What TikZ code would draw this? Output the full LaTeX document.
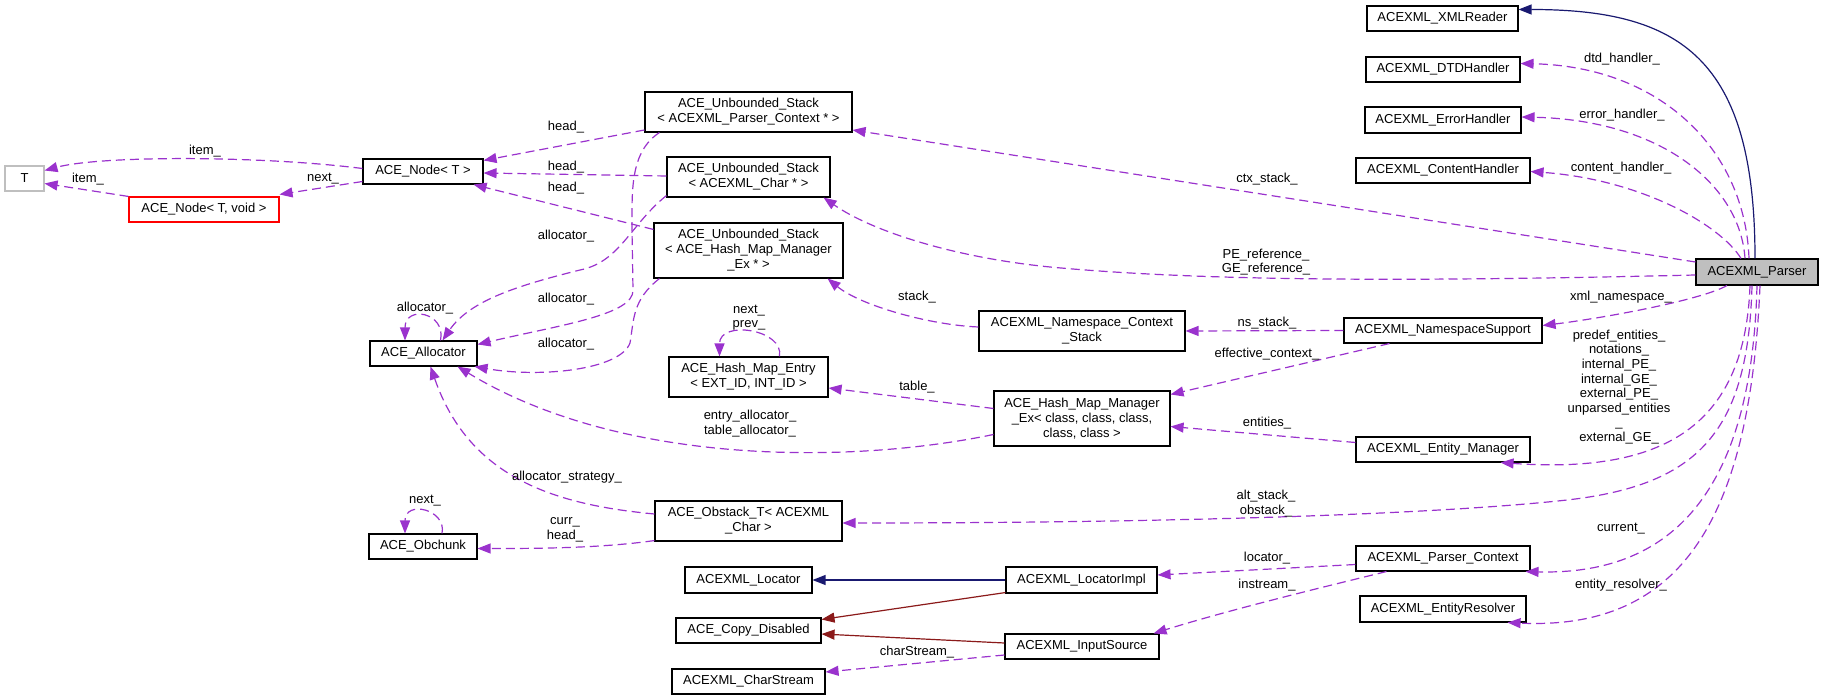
\documentclass[tikz,border=0pt]{standalone}
\usepackage{fontspec}
\setmainfont{Liberation Sans}
\usetikzlibrary{calc}
\usetikzlibrary{arrows.meta}
\definecolor{orchid}{HTML}{9A32CD}
\definecolor{midblue}{HTML}{191970}
\definecolor{brick}{HTML}{8B1A1A}
\definecolor{grayb}{HTML}{BFBFBF}
\begin{document}
\begin{tikzpicture}[x=1pt, y=-1pt, font=\fontsize{13}{15}\selectfont,
  cls/.style={draw=black, line width=1.1pt, inner sep=0pt, align=center},
  used/.style={orchid, line width=1.2pt, dash pattern=on 9pt off 5pt, -{Triangle[length=13pt,width=10pt]}},
  pubinh/.style={midblue, line width=1.2pt, -{Triangle[length=13pt,width=10pt]}},
  privinh/.style={brick, line width=1.2pt, -{Triangle[length=13pt,width=10pt]}},
  lbl/.style={inner sep=0pt, align=center, font=\fontsize{13}{14.6}\selectfont}]
\useasboundingbox (0,0) rectangle (1824,700);

\node[cls, draw=grayb, minimum width=39pt, minimum height=25pt] (T) at (24.5,178.5) {T};
\node[cls, minimum width=120pt, minimum height=25pt] (NodeT) at (423,171.5) {ACE\_Node< T >};
\node[cls, draw=red, minimum width=150pt, minimum height=25pt] (NodeTV) at (204,209.5) {ACE\_Node< T, void >};
\node[cls, minimum width=107pt, minimum height=25pt] (Alloc) at (423.5,353.5) {ACE\_Allocator};
\node[cls, minimum width=108pt, minimum height=25pt] (Obchunk) at (423,546.5) {ACE\_Obchunk};
\node[cls, minimum width=207pt, minimum height=40pt] (StackPC) at (748.5,112) {ACE\_Unbounded\_Stack\\< ACEXML\_Parser\_Context * >};
\node[cls, minimum width=163pt, minimum height=40pt] (StackChar) at (748.5,177) {ACE\_Unbounded\_Stack\\< ACEXML\_Char * >};
\node[cls, minimum width=189pt, minimum height=55pt] (StackHMM) at (748.5,250.5) {ACE\_Unbounded\_Stack\\< ACE\_Hash\_Map\_Manager\\\_Ex * >};
\node[cls, minimum width=159pt, minimum height=40pt] (HMEntry) at (748.5,377) {ACE\_Hash\_Map\_Entry\\< EXT\_ID, INT\_ID >};
\node[cls, minimum width=187pt, minimum height=40pt] (Obstack) at (748.5,521) {ACE\_Obstack\_T< ACEXML\\\_Char >};
\node[cls, minimum width=127pt, minimum height=26pt] (Locator) at (748.5,580) {ACEXML\_Locator};
\node[cls, minimum width=145pt, minimum height=25pt] (CopyDis) at (748.5,630.5) {ACE\_Copy\_Disabled};
\node[cls, minimum width=153pt, minimum height=25pt] (CharStream) at (748.5,681.5) {ACEXML\_CharStream};
\node[cls, minimum width=206pt, minimum height=40pt] (NCStack) at (1082,331) {ACEXML\_Namespace\_Context\\\_Stack};
\node[cls, minimum width=176pt, minimum height=55pt] (HMManager) at (1082,418.5) {ACE\_Hash\_Map\_Manager\\\_Ex< class, class, class,\\class, class >};
\node[cls, minimum width=151pt, minimum height=26pt] (LocImpl) at (1081.5,580) {ACEXML\_LocatorImpl};
\node[cls, minimum width=154pt, minimum height=25pt] (InputSrc) at (1082,646.5) {ACEXML\_InputSource};
\node[cls, minimum width=151pt, minimum height=25pt] (XMLReader) at (1442.5,18.5) {ACEXML\_XMLReader};
\node[cls, minimum width=154pt, minimum height=25pt] (DTD) at (1443,69.5) {ACEXML\_DTDHandler};
\node[cls, minimum width=156pt, minimum height=26pt] (ErrH) at (1443,120) {ACEXML\_ErrorHandler};
\node[cls, minimum width=174pt, minimum height=25pt] (ContH) at (1443,170.5) {ACEXML\_ContentHandler};
\node[cls, minimum width=198pt, minimum height=25pt] (NSSupport) at (1443,330.5) {ACEXML\_NamespaceSupport};
\node[cls, minimum width=174pt, minimum height=25pt] (EntMgr) at (1443,449.5) {ACEXML\_Entity\_Manager};
\node[cls, minimum width=174pt, minimum height=25pt] (ParserCtx) at (1443,558.5) {ACEXML\_Parser\_Context};
\node[cls, minimum width=166pt, minimum height=26pt] (EntRes) at (1443,609) {ACEXML\_EntityResolver};
\node[cls, fill=grayb, minimum width=122pt, minimum height=26pt] (Parser) at (1757,272) {ACEXML\_Parser};

\draw[pubinh] ($(Parser.north)+(-2,0)$) .. controls +(0,-200) and +(162,0) .. ($(XMLReader.east)+(0,-9)$);
\draw[used] ($(Parser.north)+(-8,0)$) .. controls +(-4,-109) and +(140,3) .. ($(DTD.east)+(0,-6)$);
\draw[used] ($(Parser.north)+(-12,0)$) .. controls +(-5,-74) and +(139,3) .. ($(ErrH.east)+(0,-3)$);
\draw[used] ($(Parser.north)+(-16,0)$) .. controls +(-21,-34) and +(110,8) .. ($(ContH.east)+(0,1)$);
\draw[used] ($(Parser.west)+(0,-10)$) -- ($(StackPC.east)+(0,18)$);
\draw[used] ($(Parser.west)+(0,3)$) .. controls (1400,282) and (1200,281) .. (1050,267) .. controls (950,257) and (870,230) .. ($(StackChar.south east)+(-7,0)$);
\draw[used] ($(Parser.south)+(-30,0)$) .. controls +(-27,15) and +(58,-7) .. ($(NSSupport.east)+(0,-5)$);
\draw[used] ($(Parser.south)+(-7,0)$) .. controls +(-5,135) and +(170,12) .. ($(EntMgr.south east)+(-30,0)$);
\draw[used] ($(Parser.south)+(-5,0)$) .. controls +(-4,145) and +(133,-15) .. (1567,500) .. controls (1450,513) and (1200,523) .. ($(Obstack.east)+(0,2)$);
\draw[used] (Parser.south) .. controls +(-5,195) and +(155,4) .. ($(ParserCtx.south east)+(-5,0)$);
\draw[used] ($(Parser.south)+(3,0)$) .. controls +(-10,235) and +(173,8) .. ($(EntRes.south east)+(-19,0)$);

\draw[used] (NSSupport.west) -- (NCStack.east);
\draw[used] ($(NSSupport.south west)+(46,0)$) -- ($(HMManager.north east)+(0,4)$);
\draw[used] ($(EntMgr.west)+(0,-7)$) -- ($(HMManager.east)+(0,8)$);
\draw[used] ($(ParserCtx.west)+(0,6)$) -- ($(LocImpl.east)+(0,-5)$);
\draw[used] ($(ParserCtx.south west)+(31,0)$) .. controls +(-57,14) and +(77,-24) .. ($(InputSrc.north east)+(-6,0)$);
\draw[used] ($(NCStack.west)+(0,-4)$) .. controls +(-49,-2) and +(33,27) .. ($(StackHMM.south east)+(-16,0)$);
\draw[used] ($(HMManager.west)+(0,-10)$) -- ($(HMEntry.east)+(0,11)$);
\draw[used] ($(HMManager.west)+(0,16)$) .. controls +(-144,30) and +(163,99) .. ($(Alloc.south east)+(-20,0)$);
\draw[used] ($(Obstack.west)+(0,-7)$) .. controls +(-95,-9) and +(39.5,114) .. ($(Alloc.south)+(7,0)$);
\draw[used] ($(Obstack.south west)+(0,-1)$) .. controls +(-55,8) and +(53,0) .. ($(Obchunk.east)+(0,2)$);
\draw[used] ($(Obchunk.north)+(19,0)$) .. controls +(5,-24) and +(0,-34) .. ($(Obchunk.north)+(-18,0)$);
\draw[used] ($(Alloc.north)+(17,0)$) .. controls +(6,-28) and +(0,-36) .. ($(Alloc.north)+(-18.5,0)$);
\draw[used] ($(HMEntry.north)+(31,0)$) .. controls +(5,-27) and +(0,-37) .. ($(HMEntry.north)+(-29,0)$);

\draw[used] ($(StackPC.west)+(0,18)$) -- ($(NodeT.north east)+(0,2)$);
\draw[used] ($(StackChar.west)+(0,-1)$) -- ($(NodeT.east)+(0,1.5)$);
\draw[used] ($(StackHMM.north west)+(0,7)$) -- ($(NodeT.south east)+(-10,0)$);
\draw[used] ($(StackChar.south west)+(0,-2)$) .. controls (630,225) and (620,262) .. (580,270) .. controls (520,285) and (470,300) .. ($(Alloc.north)+(19,0)$);
\draw[used] ($(StackPC.south west)+(15,0)$) .. controls (630,152) and (632,190) .. (632,230) -- (633,290) .. controls (634,315) and (560,325) .. ($(Alloc.north east)+(0,4)$);
\draw[used] ($(StackHMM.south west)+(6,0)$) .. controls (632,300) and (634,320) .. (630,343) .. controls (620,370) and (540,378) .. ($(Alloc.south east)+(-3,0)$);

\draw[used] ($(NodeT.west)+(0,-3)$) .. controls +(-103,-13) and +(56,-15) .. ($(T.east)+(0,-8)$);
\draw[used] ($(NodeT.west)+(0,10)$) -- ($(NodeTV.north east)+(0,-2)$);
\draw[used] (NodeTV.north west) -- ($(T.east)+(0,5)$);

\draw[pubinh] (LocImpl.west) -- (Locator.east);
\draw[privinh] ($(LocImpl.south west)+(0,-1)$) -- ($(CopyDis.east)+(0,-11)$);
\draw[privinh] ($(InputSrc.west)+(0,-3.5)$) -- ($(CopyDis.east)+(0,3.5)$);
\draw[used] ($(InputSrc.west)+(0,8.5)$) -- ($(CharStream.east)+(0,-9.5)$);

\node[lbl] (lItemA) at (205,151) {item\_};
\node[lbl] (lItemB) at (88,179) {item\_};
\node[lbl] (lNextA) at (323,179) {next\_};
\node[lbl] (lAllocSelf) at (425,308) {allocator\_};
\node[lbl] (lNextB) at (425,501) {next\_};
\node[lbl] (lHeadA) at (566,127) {head\_};
\node[lbl] (lHeadB) at (566,167) {head\_};
\node[lbl] (lHeadC) at (566,188) {head\_};
\node[lbl] (lAllocA) at (566,236) {allocator\_};
\node[lbl] (lAllocB) at (566,299) {allocator\_};
\node[lbl] (lAllocC) at (566,344) {allocator\_};
\node[lbl] (lStack) at (917,297) {stack\_};
\node[lbl] (lNextPrev) at (749,317.5) {next\_\\prev\_};
\node[lbl] (lTable) at (917,387) {table\_};
\node[lbl] (lEntryAlloc) at (750,423.5) {entry\_allocator\_\\table\_allocator\_};
\node[lbl] (lStrategy) at (567,477) {allocator\_strategy\_};
\node[lbl] (lCurrHead) at (565,530) {curr\_\\head\_};
\node[lbl] (lCharStream) at (917,652) {charStream\_};
\node[lbl] (lNsStack) at (1267,323) {ns\_stack\_};
\node[lbl] (lEffCtx) at (1267,354) {effective\_context\_};
\node[lbl] (lEntities) at (1267,423) {entities\_};
\node[lbl] (lAltStack) at (1266,503.5) {alt\_stack\_\\obstack\_};
\node[lbl] (lLocator) at (1267,558) {locator\_};
\node[lbl] (lInstream) at (1267,585) {instream\_};
\node[lbl] (lCtxStack) at (1267,179) {ctx\_stack\_};
\node[lbl] (lReference) at (1266,262) {PE\_reference\_\\GE\_reference\_};
\node[lbl] (lDtd) at (1622,59) {dtd\_handler\_};
\node[lbl] (lError) at (1622,115) {error\_handler\_};
\node[lbl] (lContent) at (1621,168) {content\_handler\_};
\node[lbl] (lXmlNs) at (1621,297) {xml\_namespace\_};
\node[lbl] (lEntityTables) at (1619,387) {predef\_entities\_\\notations\_\\internal\_PE\_\\internal\_GE\_\\external\_PE\_\\unparsed\_entities\\\_\\external\_GE\_};
\node[lbl] (lCurrent) at (1621,529) {current\_};
\node[lbl] (lResolver) at (1621,585) {entity\_resolver\_};
\end{tikzpicture}
\end{document}
